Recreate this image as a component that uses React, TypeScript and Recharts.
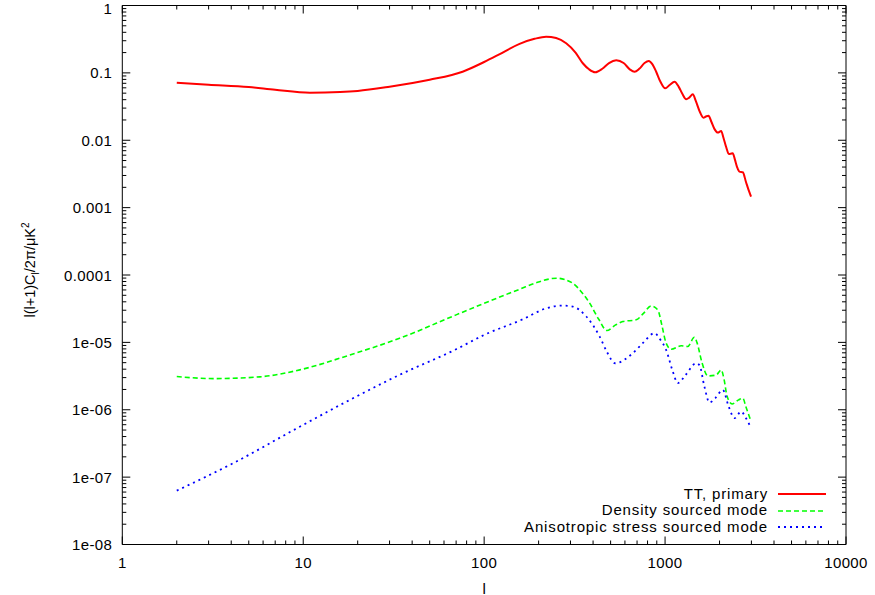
import React from 'react';
import { Label, Legend, Line, LineChart, XAxis, YAxis } from 'recharts';

// axis ticks (log-log, gnuplot style)
const xMajor = [1, 10, 100, 1000, 10000];
const xMajorLabels = ['1', '10', '100', '1000', '10000'];
const yMajor = [1e-8, 1e-7, 1e-6, 1e-5, 1e-4, 1e-3, 1e-2, 1e-1, 1];
const yMajorLabels = ['1e-08', '1e-07', '1e-06', '1e-05', '0.0001', '0.001', '0.01', '0.1', '1'];
const minorSteps = [2, 3, 4, 5, 6, 7, 8, 9];

// TT, primary
const ttL = [2, 3, 5, 7, 10.9, 16, 20, 30, 50, 76, 100, 122, 157, 190, 220, 250, 284, 320, 351, 380, 411, 450, 490, 537, 590, 640, 678, 720, 770, 813, 850, 893, 940, 1002, 1060, 1128, 1190, 1250, 1308, 1360, 1423, 1480, 1560, 1629, 1680, 1738, 1800, 1880, 1955, 2042, 2100, 2180, 2249, 2300, 2366, 2430, 2500, 2576, 2688, 2800, 2900, 2987];
const ttVal = [0.0716, 0.0668, 0.0615, 0.056, 0.0508, 0.052, 0.054, 0.0624, 0.079, 0.104, 0.145, 0.19, 0.27, 0.32, 0.344, 0.33, 0.275, 0.2, 0.139, 0.113, 0.102, 0.115, 0.14, 0.154, 0.14, 0.112, 0.104, 0.115, 0.14, 0.15, 0.135, 0.104, 0.075, 0.059, 0.066, 0.074, 0.062, 0.048, 0.0406, 0.043, 0.0481, 0.038, 0.026, 0.0216, 0.0225, 0.0232, 0.019, 0.0145, 0.013, 0.0137, 0.011, 0.0078, 0.00626, 0.0063, 0.00641, 0.0052, 0.004, 0.00342, 0.00335, 0.0024, 0.0018, 0.00146];

// Density sourced mode
const densL = [2, 3.18, 5.76, 9.57, 18.1, 34.1, 70, 100, 157, 200, 251, 309, 345, 383, 430, 477, 530, 584, 692, 760, 837, 912, 960, 1010, 1081, 1228, 1335, 1452, 1500, 1600, 1722, 1915, 2042, 2120, 2200, 2345, 2550, 2688, 2800, 2987];
const densVal = [3.11e-6, 2.9e-6, 3.08e-6, 3.91e-6, 6.5e-6, 1.15e-5, 2.56e-5, 3.8e-5, 6.15e-5, 7.9e-5, 8.96e-5, 7.55e-5, 5.6e-5, 3.82e-5, 2.2e-5, 1.5e-5, 1.8e-5, 2.04e-5, 2.16e-5, 2.7e-5, 3.48e-5, 3.03e-5, 1.8e-5, 1.0e-5, 7.9e-6, 8.9e-6, 8.7e-6, 1.19e-5, 1.0e-5, 5e-6, 3.18e-6, 3.27e-6, 3.9e-6, 2.8e-6, 1.6e-6, 1.22e-6, 1.4e-6, 1.49e-6, 1.1e-6, 6.7e-7];

// Anisotropic stress sourced mode
const anisoL = [2, 4.1, 9.57, 18.1, 34.1, 70, 100, 164, 220, 272, 309, 367, 435, 480, 530, 663, 760, 874, 940, 1014, 1100, 1175, 1300, 1485, 1549, 1650, 1758, 1900, 2084, 2250, 2421, 2633, 2800, 2963];
const anisoVal = [6.3e-8, 1.61e-7, 5.6e-7, 1.4e-6, 3.3e-6, 7.9e-6, 1.29e-5, 2.21e-5, 3.2e-5, 3.52e-5, 3.4e-5, 2.42e-5, 1.22e-5, 7e-6, 4.9e-6, 6.9e-6, 1.0e-5, 1.37e-5, 1.1e-5, 7.7e-6, 3.8e-6, 2.48e-6, 3.3e-6, 4.9e-6, 4.6e-6, 2.2e-6, 1.28e-6, 1.5e-6, 1.97e-6, 1.1e-6, 7.5e-7, 9.4e-7, 7.5e-7, 5.6e-7];

const toRows = (ls: number[], vs: number[]) => ls.map((l, i) => ({ l, v: vs[i] }));
const ttData = toRows(ttL, ttVal);
const densData = toRows(densL, densVal);
const anisoData = toRows(anisoL, anisoVal);

const withMinor = (majors: number[]) => {
  const out: number[] = [];
  majors.forEach((m, i) => {
    out.push(m);
    if (i < majors.length - 1) minorSteps.forEach((s) => out.push(m * s));
  });
  return out;
};
const xTicks = withMinor(xMajor);
const yTicks = withMinor(yMajor);

const majorIndex = (v: number, majors: number[]) => majors.findIndex((m) => Math.abs(v / m - 1) < 1e-6);

const font = '"Liberation Sans", Arial, sans-serif';
const MAJOR = 8;
const MINOR = 4;

const BottomTick = ({ x, y, payload }: any) => {
  const i = majorIndex(payload.value, xMajor);
  return (
    <g>
      <line x1={x} y1={y} x2={x} y2={y - (i >= 0 ? MAJOR : MINOR)} stroke="#000" />
      {i >= 0 && (
        <text x={x} y={y + 23} textAnchor="middle" fontSize={15} letterSpacing={0.4} fontFamily={font} fill="#000">
          {xMajorLabels[i]}
        </text>
      )}
    </g>
  );
};

const TopTick = ({ x, y, payload }: any) => {
  const i = majorIndex(payload.value, xMajor);
  return <line x1={x} y1={y} x2={x} y2={y + (i >= 0 ? MAJOR : MINOR)} stroke="#000" />;
};

const LeftTick = ({ x, y, payload }: any) => {
  const i = majorIndex(payload.value, yMajor);
  return (
    <g>
      <line x1={x} y1={y} x2={x + (i >= 0 ? MAJOR : MINOR)} y2={y} stroke="#000" />
      {i >= 0 && (
        <text x={x - 10} y={Math.max(y + 5.5, 14)} textAnchor="end" fontSize={15} letterSpacing={0.4} fontFamily={font} fill="#000">
          {yMajorLabels[i]}
        </text>
      )}
    </g>
  );
};

const RightTick = ({ x, y, payload }: any) => {
  const i = majorIndex(payload.value, yMajor);
  return <line x1={x} y1={y} x2={x - (i >= 0 ? MAJOR : MINOR)} y2={y} stroke="#000" />;
};

const YTitle = ({ viewBox }: any) => {
  const cx = viewBox.x + 35;
  const cy = viewBox.y + viewBox.height / 2 - 5;
  return (
    <text x={cx} y={cy} transform={`rotate(-90 ${cx} ${cy})`} textAnchor="middle" fontSize={14.5} fontFamily={font} fill="#000">
      <tspan>l(l+1)C</tspan>
      <tspan fontSize={10} dy={4}>l</tspan>
      <tspan dy={-4}>/2π/μK</tspan>
      <tspan fontSize={10} dy={-6}>2</tspan>
    </text>
  );
};

const XTitle = ({ viewBox }: any) => (
  <text x={viewBox.x + viewBox.width / 2} y={viewBox.y + 49} textAnchor="middle" fontSize={15} fontFamily={font} fill="#000">
    l
  </text>
);

const series = [
  { name: 'TT, primary', color: '#ff0000', dash: undefined, width: 2 },
  { name: 'Density sourced mode', color: '#00ff00', dash: '5 3', width: 1.6 },
  { name: 'Anisotropic stress sourced mode', color: '#0000ff', dash: '2 4', width: 1.8 },
];

const LegendBox = () => (
  <div style={{ fontFamily: font, fontSize: 15, letterSpacing: 0.85, color: '#000' }}>
    {series.map((s) => (
      <div key={s.name} style={{ display: 'flex', justifyContent: 'flex-end', alignItems: 'center', height: 16.5 }}>
        <span style={{ lineHeight: '16.5px' }}>{s.name}</span>
        <svg width={48} height={10} style={{ marginLeft: 10 }}>
          <line x1={0} y1={5} x2={48} y2={5} stroke={s.color} strokeWidth={s.width} strokeDasharray={s.dash} />
        </svg>
      </div>
    ))}
  </div>
);

export default function App() {
  return (
    <div style={{ position: 'absolute', left: 0, top: 0, width: 875, height: 595, background: '#fff' }}>
      <LineChart width={875} height={595} margin={{ top: 4.5, right: 28, bottom: 0.5, left: 0 }}>
        <XAxis
          xAxisId="bottom"
          dataKey="l"
          type="number"
          scale="log"
          domain={[1, 10000]}
          allowDataOverflow
          ticks={xTicks}
          interval={0}
          height={50}
          tickSize={0}
          tickMargin={0}
          tickLine={false}
          axisLine={{ stroke: '#000' }}
          tick={<BottomTick />}
        >
          <Label content={<XTitle />} />
        </XAxis>
        <XAxis
          xAxisId="top"
          orientation="top"
          dataKey="l"
          type="number"
          scale="log"
          domain={[1, 10000]}
          allowDataOverflow
          ticks={xTicks}
          interval={0}
          height={1}
          tickSize={0}
          tickMargin={0}
          tickLine={false}
          axisLine={{ stroke: '#000' }}
          tick={<TopTick />}
        />
        <YAxis
          yAxisId="left"
          type="number"
          scale="log"
          domain={[1e-8, 1]}
          allowDataOverflow
          ticks={yTicks}
          interval={0}
          width={122.3}
          tickSize={0}
          tickMargin={0}
          tickLine={false}
          axisLine={{ stroke: '#000' }}
          tick={<LeftTick />}
        >
          <Label content={<YTitle />} />
        </YAxis>
        <YAxis
          yAxisId="right"
          orientation="right"
          type="number"
          scale="log"
          domain={[1e-8, 1]}
          allowDataOverflow
          ticks={yTicks}
          interval={0}
          width={1}
          tickSize={0}
          tickMargin={0}
          tickLine={false}
          axisLine={{ stroke: '#000' }}
          tick={<RightTick />}
        />
        <Legend
          layout="vertical"
          align="center"
          verticalAlign="middle"
          content={<LegendBox />}
          wrapperStyle={{ left: 480, top: 485.75, width: 346 }}
        />
        <Line
          data={ttData}
          name={series[0].name}
          xAxisId="bottom"
          yAxisId="left"
          dataKey="v"
          type="monotone"
          stroke={series[0].color}
          strokeWidth={series[0].width}
          dot={false}
          isAnimationActive={false}
        />
        <Line
          data={densData}
          name={series[1].name}
          xAxisId="bottom"
          yAxisId="left"
          dataKey="v"
          type="monotone"
          stroke={series[1].color}
          strokeWidth={series[1].width}
          strokeDasharray={series[1].dash}
          dot={false}
          isAnimationActive={false}
        />
        <Line
          data={anisoData}
          name={series[2].name}
          xAxisId="bottom"
          yAxisId="left"
          dataKey="v"
          type="monotone"
          stroke={series[2].color}
          strokeWidth={series[2].width}
          strokeDasharray={series[2].dash}
          dot={false}
          isAnimationActive={false}
        />
      </LineChart>
    </div>
  );
}
